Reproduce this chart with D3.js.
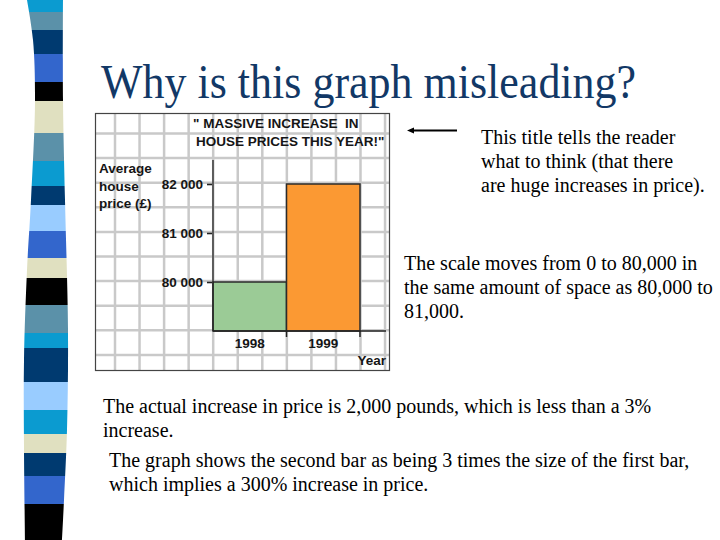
<!DOCTYPE html>
<html>
<head>
<meta charset="utf-8">
<script src="https://cdn.jsdelivr.net/npm/d3@7"></script>
<style>
body { margin: 0; background: #fff; }
svg { display: block; }
</style>
</head>
<body>
<div class="slide"></div>
<script>
// chart data
const years = ['1998', '1999'];
const prices = [80000, 82000];
const yTicks = [80000, 81000, 82000];
const yTickLabels = ['80 000', '81 000', '82 000'];
const chartTitle = ['" MASSIVE INCREASE  IN', 'HOUSE PRICES THIS YEAR!"'];
const yLabel = ['Average', 'house', 'price (£)'];

// left stripe decoration: [bottom edge, colour]
const stripes = [
	[12, '#0b9bd0'], [30, '#5b91a9'], [54, '#003a70'], [82, '#3366cc'], [101, '#000000'],
	[133, '#e0e0c0'], [161, '#5b91a9'], [186, '#0b9bd0'], [205, '#003a70'], [231, '#99ccff'],
	[258, '#3366cc'], [278, '#e0e0c0'], [305, '#000000'], [333, '#5b91a9'], [348, '#0b9bd0'],
	[382, '#003a70'], [410, '#99ccff'], [434, '#0b9bd0'], [453, '#e0e0c0'], [476, '#003a70'],
	[504, '#3366cc'], [540, '#000000']
];

const w = 720;
const h = 540;

const svg = d3.select('div.slide')
	.append('svg')
	.attr('width', w)
	.attr('height', h);

// stripe bar, slightly wavy outline
const leftEdge = [[27, 0], [33, 40], [35, 100], [31, 200], [27, 270], [24, 360], [24, 450], [25, 540]];
const rightEdge = [[63, 0], [63, 100], [65, 200], [68, 330], [67, 430], [64, 500], [62, 540]];
const edge = d3.line().curve(d3.curveCatmullRom);
svg.append('clipPath')
	.attr('id', 'stripclip')
	.append('path')
	.attr('d', edge(leftEdge) + 'L' + edge(rightEdge.slice().reverse()).slice(1) + 'Z');

svg.append('g')
	.attr('clip-path', 'url(#stripclip)')
	.selectAll('rect')
	.data(stripes)
	.enter()
	.append('rect')
	.attr('x', 15)
	.attr('width', 60)
	.attr('y', (d, i) => i == 0 ? 0 : stripes[i - 1][0])
	.attr('height', (d, i) => d[0] - (i == 0 ? 0 : stripes[i - 1][0]))
	.attr('fill', (d) => d[1]);

// slide title
svg.append('text')
	.text('Why is this graph misleading?')
	.attr('transform', 'translate(101,98) scale(1,1.12)')
	.attr('font-family', '"Liberation Serif", "Times New Roman", serif')
	.attr('font-size', 44)
	.attr('fill', '#123866');

// chart picture: graph paper
const box = {x0: 95, y0: 113, x1: 390, y1: 371};
svg.append('rect')
	.attr('x', box.x0)
	.attr('y', box.y0)
	.attr('width', box.x1 - box.x0)
	.attr('height', box.y1 - box.y0)
	.attr('fill', '#fff');

const grid = svg.append('g')
	.attr('stroke', '#c9c9c9')
	.attr('stroke-width', 2.5);
grid.selectAll('line.v')
	.data(d3.range(115, box.x1, 24.55))
	.enter()
	.append('line')
	.attr('x1', (d) => d).attr('x2', (d) => d)
	.attr('y1', box.y0).attr('y2', box.y1);
grid.selectAll('line.hz')
	.data(d3.range(133.5, box.y1, 24.6))
	.enter()
	.append('line')
	.attr('x1', box.x0).attr('x2', box.x1)
	.attr('y1', (d) => d).attr('y2', (d) => d);

svg.append('rect')
	.attr('x', box.x0 + 0.5)
	.attr('y', box.y0 + 0.5)
	.attr('width', box.x1 - box.x0 - 1)
	.attr('height', box.y1 - box.y0 - 1)
	.attr('fill', 'none')
	.attr('stroke', '#444')
	.attr('stroke-width', 1.2);

// scales: 0 -> 80 000 squeezed into the same space as one step
const xScale = d3.scaleBand()
	.domain(years)
	.range([213, 360]);
const yScale = d3.scaleLinear()
	.domain([0, 80000, 82000])
	.range([331, 282, 184]);

const colors = ['#9bcb96', '#fb9933'];

svg.selectAll('rect.bar')
	.data(prices)
	.enter()
	.append('rect')
	.attr('class', 'bar')
	.attr('x', (d, i) => xScale(years[i]))
	.attr('y', (d) => yScale(d))
	.attr('width', xScale.bandwidth())
	.attr('height', (d) => yScale(0) - yScale(d))
	.attr('fill', (d, i) => colors[i])
	.attr('stroke', '#2b2b2b')
	.attr('stroke-width', 1.5);

const labelFont = '"Liberation Sans", Arial, sans-serif';
const ink = '#151515';

// y axis
const yAxis = d3.axisLeft(yScale)
	.tickValues(yTicks)
	.tickFormat((d, i) => yTickLabels[i])
	.tickSize(6)
	.tickPadding(4);
const gy = svg.append('g')
	.attr('transform', 'translate(213,0)')
	.call(yAxis);
gy.select('.domain').remove();
gy.append('line')
	.attr('y1', 160).attr('y2', 331)
	.attr('stroke', '#222').attr('stroke-width', 1.3);
gy.selectAll('.tick line').attr('stroke', '#222').attr('stroke-width', 1.6).attr('x2', -6).attr('x1', -1);
gy.selectAll('.tick text')
	.attr('font-family', labelFont)
	.attr('font-weight', 'bold')
	.attr('font-size', 13.5)
	.attr('fill', ink);

// x axis
const xEdges = d3.scaleOrdinal().domain(years).range(years.map((d) => xScale(d) + xScale.bandwidth()));
const gx = svg.append('g')
	.attr('transform', 'translate(0,331)');
gx.append('line')
	.attr('x1', 213).attr('x2', 386)
	.attr('stroke', '#222').attr('stroke-width', 1.3);
gx.selectAll('line.tick')
	.data(years)
	.enter()
	.append('line')
	.attr('x1', (d) => xEdges(d)).attr('x2', (d) => xEdges(d))
	.attr('y1', 0).attr('y2', 6)
	.attr('stroke', '#222').attr('stroke-width', 1.5);
gx.selectAll('text')
	.data(years)
	.enter()
	.append('text')
	.text((d) => d)
	.attr('x', (d) => xScale(d) + xScale.bandwidth() / 2)
	.attr('y', 16.5)
	.attr('text-anchor', 'middle')
	.attr('font-family', labelFont)
	.attr('font-weight', 'bold')
	.attr('font-size', 13.5)
	.attr('fill', ink);

svg.append('text')
	.text('Year')
	.attr('x', 386)
	.attr('y', 365)
	.attr('text-anchor', 'end')
	.attr('font-family', labelFont)
	.attr('font-weight', 'bold')
	.attr('font-size', 13.5)
	.attr('fill', ink);

svg.selectAll('text.ylab')
	.data(yLabel)
	.enter()
	.append('text')
	.attr('class', 'ylab')
	.text((d) => d)
	.attr('x', 99)
	.attr('y', (d, i) => 173 + i * 17.5)
	.attr('font-family', labelFont)
	.attr('font-weight', 'bold')
	.attr('font-size', 13.5)
	.attr('fill', ink);

svg.selectAll('text.ctitle')
	.data(chartTitle)
	.enter()
	.append('text')
	.attr('class', 'ctitle')
	.text((d) => d)
	.attr('x', (d, i) => i == 0 ? 193 : 196)
	.attr('y', (d, i) => 128 + i * 18)
	.attr('font-family', labelFont)
	.attr('font-weight', 'bold')
	.attr('font-size', 13.5)
	.attr('xml:space', 'preserve')
	.style('white-space', 'pre')
	.attr('fill', ink);

// arrow pointing at the chart title
svg.append('line')
	.attr('x1', 457).attr('x2', 412)
	.attr('y1', 130.5).attr('y2', 130.5)
	.attr('stroke', '#000').attr('stroke-width', 2);
svg.append('path')
	.attr('d', 'M407,130.5 L414,127.5 L414,133.5 Z')
	.attr('fill', '#000');

// explanatory notes
const notes = [
	{x: 481, y: 144, lines: ['This title tells the reader', 'what to think (that there', 'are huge increases in price).']},
	{x: 404, y: 270, lines: ['The scale moves from 0 to 80,000 in', 'the same amount of space as 80,000 to', '81,000.']},
	{x: 103, y: 413, lines: ['The actual increase in price is 2,000 pounds, which is less than a 3%', 'increase.']},
	{x: 109, y: 467, lines: ['The graph shows the second bar as being 3 times the size of the first bar,', 'which implies a 300% increase in price.']}
];

notes.forEach(function(n){
	svg.append('g')
		.selectAll('text')
		.data(n.lines)
		.enter()
		.append('text')
		.text((d) => d)
		.attr('x', n.x)
		.attr('y', (d, i) => n.y + i * 24)
		.attr('font-family', '"Liberation Serif", "Times New Roman", serif')
		.attr('font-size', 20)
		.attr('fill', '#000');
});
</script>
</body>
</html>
